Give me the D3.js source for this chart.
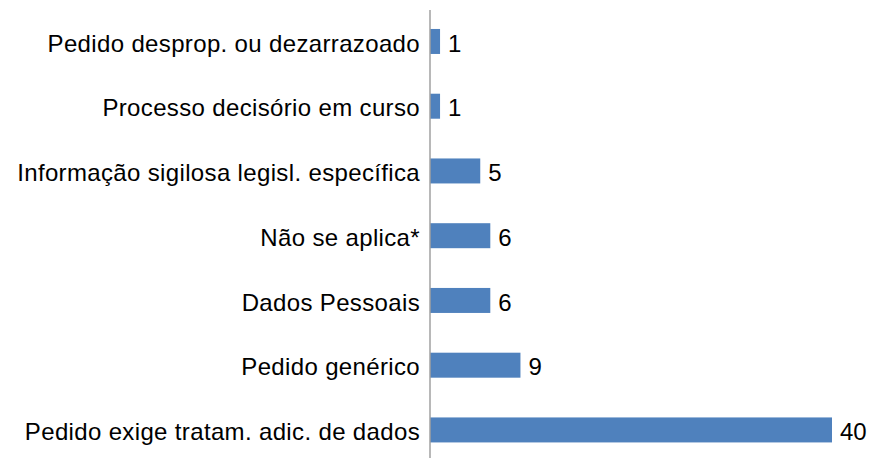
<!DOCTYPE html>
<html><head><meta charset="utf-8">
<script src="https://cdn.jsdelivr.net/npm/d3@7"></script>
<style>body{margin:0;background:#fff}svg{display:block}</style>
</head><body>
<script>
const categories = ["Pedido desprop. ou dezarrazoado","Processo decisório em curso","Informação sigilosa legisl. específica","Não se aplica*","Dados Pessoais","Pedido genérico","Pedido exige tratam. adic. de dados"];
const values = [1,1,5,6,6,9,40];

const W = 870, H = 458;
const svg = d3.select("body").append("svg").attr("width", W).attr("height", H);
const x0 = 430;
const x = d3.scaleLinear().domain([0, 40]).range([x0, 832]);
const y = d3.scaleBand().domain(categories).range([10, 461.4]).paddingInner(0.614).paddingOuter(0.293);

svg.selectAll("rect.bar").data(categories).enter().append("rect")
  .attr("x", x(0)).attr("y", d => y(d))
  .attr("width", (d,i) => x(values[i]) - x(0))
  .attr("height", y.bandwidth()).attr("fill", "#4F81BD");

svg.append("line").attr("x1", x0).attr("x2", x0).attr("y1", 10).attr("y2", H)
  .attr("stroke", "#A0A0A0").attr("stroke-width", 1.5);

const font = "'Liberation Sans', Arial, sans-serif";
svg.selectAll("text.cat").data(categories).enter().append("text")
  .attr("x", 420).attr("y", d => y(d) + y.bandwidth()/2)
  .attr("dy", "0.42em").attr("text-anchor", "end")
  .attr("font-family", font).attr("font-size", 24).attr("fill", "#000")
  .attr("letter-spacing", 0.35)
  .text(d => d);

svg.selectAll("text.val").data(categories).enter().append("text")
  .attr("x", (d,i) => x(values[i]) + 8).attr("y", d => y(d) + y.bandwidth()/2)
  .attr("dy", "0.42em")
  .attr("font-family", font).attr("font-size", 24).attr("fill", "#000")
  .text((d,i) => values[i]);
</script>
</body></html>
